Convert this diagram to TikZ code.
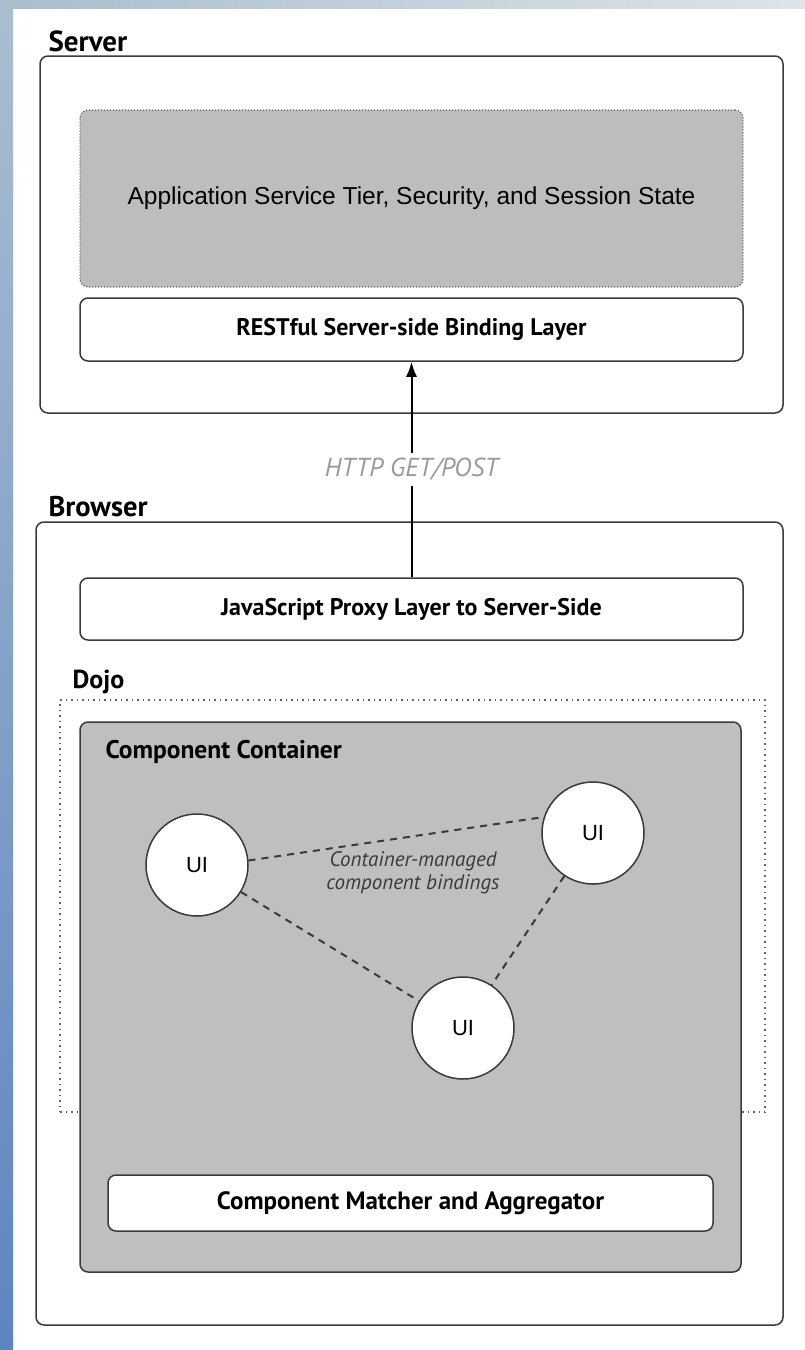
\documentclass[tikz,border=0pt]{standalone}
\usepackage{fontspec}
\setmainfont{PT Sans}
\newfontfamily\helv{Liberation Sans}
\usetikzlibrary{arrows.meta}
\definecolor{bord}{HTML}{3A3A3A}
\definecolor{grayfill}{HTML}{BDBDBD}
\definecolor{ccfill}{HTML}{BFBFBF}
\definecolor{httpgray}{HTML}{9A9A9A}
\tikzset{
  box/.style={draw=bord, line width=1.5pt, rounded corners=8pt, fill=white, inner sep=0pt},
  grayzone/.style={draw=bord!80, line width=1.2pt, dash pattern=on 1.2pt off 1.8pt, rounded corners=8pt, fill=grayfill, inner sep=0pt},
  dojozone/.style={draw=bord!80, line width=1.5pt, dash pattern=on 1.5pt off 4pt, inner sep=0pt},
  ccbox/.style={draw=bord, line width=1.5pt, rounded corners=8pt, fill=ccfill, inner sep=0pt},
  grouplbl/.style={anchor=west, font=\bfseries\fontsize{28.5}{32}\selectfont},
  layertxt/.style={font=\bfseries\fontsize{24}{28}\selectfont},
  uinode/.style={circle, draw=bord, line width=1.5pt, fill=white, minimum size=102pt, inner sep=0pt, font=\helv\fontsize{22}{24}\selectfont},
  binding/.style={draw=bord, line width=2pt, dash pattern=on 7pt off 6pt},
  callarrow/.style={draw=black, line width=2pt, -{Latex[length=15pt,width=11pt]}}
}
\begin{document}
\begin{tikzpicture}[x=1pt,y=-1pt]
\useasboundingbox (0,0) rectangle (805,1350);
\fill[white] (0,0) rectangle (805,1350);
\shade[left color={rgb,255:red,169;green,189;blue,205}, right color={rgb,255:red,222;green,228;blue,231}] (0,0) rectangle (805,8);
\shade[top color={rgb,255:red,169;green,190;blue,208}, middle color={rgb,255:red,198;green,215;blue,227}, bottom color={rgb,255:red,94;green,132;blue,192}] (0,0) rectangle (13,1350);

% Server
\node[grouplbl, font=\bfseries\fontsize{29}{33}\selectfont] (serverlbl) at (45,41) {Server};
\node[box, minimum width=743pt, minimum height=357pt] (server) at (411.5,234.5) {};
\node[grayzone, minimum width=663pt, minimum height=177pt] (app) at (411.5,198.5) {};
\node[font=\helv\fontsize{24.5}{28}\selectfont] (apptxt) at (411.5,198) {Application Service Tier, Security, and Session State};
\node[box, minimum width=663pt, minimum height=63pt, layertxt] (rest) at (411.5,329.5) {RESTful Server-side Binding Layer};

% Browser
\node[grouplbl] (browserlbl) at (45,507) {Browser};
\node[box, minimum width=747pt, minimum height=803pt] (browser) at (409.5,923.5) {};
\node[box, minimum width=663pt, minimum height=62pt, layertxt] (js) at (411.5,609) {JavaScript Proxy Layer to Server-Side};

\node[grouplbl, font=\bfseries\fontsize{26}{30}\selectfont] (dojolbl) at (69,682) {Dojo};
\node[dojozone, minimum width=705pt, minimum height=412pt] (dojo) at (412.5,906) {};
\node[ccbox, minimum width=661pt, minimum height=550pt] (cc) at (410.5,997) {};
\node[grouplbl, font=\bfseries\fontsize{25.5}{29}\selectfont] (cclbl) at (102,752) {Component Container};

\node[uinode] (uia) at (197,865) {UI};
\node[uinode] (uib) at (593,833) {UI};
\node[uinode] (uic) at (463,1028) {UI};
\draw[binding] (uia.5) -- (uib.162);
\draw[binding] (uia) -- (uic);
\draw[binding] (uib) -- (uic);
\node[font=\itshape\fontsize{21}{23}\selectfont, text=bord, align=center] (bindlbl) at (413,873) {Container-managed\\component bindings};

\node[box, minimum width=605pt, minimum height=56pt, layertxt, font=\bfseries\fontsize{25}{29}\selectfont] (matcher) at (410.5,1203) {Component Matcher and Aggregator};

% HTTP arrow
\draw[callarrow] (js.north) -- node[midway, fill=white, text=httpgray, font=\itshape\fontsize{26}{30}\selectfont, inner sep=5pt] (httplbl) {HTTP GET/POST} (rest.south);
\end{tikzpicture}
\end{document}
